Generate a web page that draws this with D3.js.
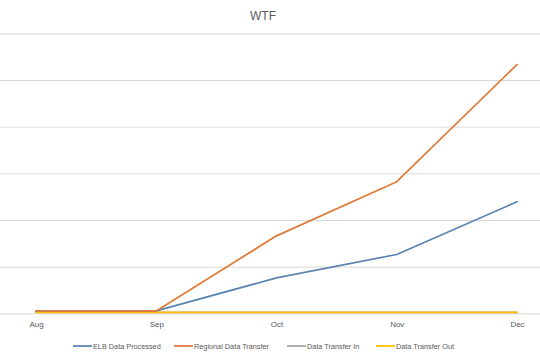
<!DOCTYPE html>
<html><head><meta charset="utf-8">
<script src="https://cdn.jsdelivr.net/npm/d3@7"></script>
<style>
html,body{margin:0;padding:0;background:#fff;}
svg{display:block;font-family:"Liberation Sans",Arial,sans-serif;}
</style></head>
<body><svg id="c" width="540" height="356"></svg>
<script>
const title = "WTF";
const months = ["Aug","Sep","Oct","Nov","Dec"];
const seriesNames = ["ELB Data Processed","Regional Data Transfer","Data Transfer In","Data Transfer Out"];
const seriesColors = ["#5B84B1","#E07B39","#A5A5A5","#FFC000"];
const elbProcessed = [0.05,0.05,0.76,1.26,2.39];
const regionalTransfer = [0.05,0.05,1.66,2.82,5.33];
const transferIn = [0.02,0.02,0.02,0.02,0.02];
const transferOut = [0.02,0.02,0.02,0.02,0.02];
const yTicks = [0,1,2,3,4,5,6];

const seriesValues = [elbProcessed, regionalTransfer, transferIn, transferOut];
const svg = d3.select("#c");
const W = 540;
const x = d3.scalePoint().domain(months).range([36,517]);
const y = d3.scaleLinear().domain([0,6]).range([313.3,33.3]);

// gridlines
const grid = svg.append("g")
  .call(d3.axisRight(y).tickValues(yTicks).tickSize(W).tickFormat(""));
grid.select(".domain").remove();
grid.selectAll(".tick line").attr("stroke","#D9D9D9").attr("stroke-width",1);

// x axis labels
const xa = svg.append("g").attr("transform","translate(0,316)")
  .call(d3.axisBottom(x).tickSize(0).tickPadding(5));
xa.select(".domain").remove();
xa.selectAll("text").attr("fill","#595959").style("font-size","8px")
  .style("font-family","'Liberation Sans',Arial,sans-serif");

// title
svg.append("text").attr("x",263).attr("y",20).attr("text-anchor","middle")
  .attr("fill","#595959").style("font-size","12px").text(title);

// lines
const line = d3.line().x((d,i)=>x(months[i])).y(d=>y(d));
const order = [2,3,0,1];
order.forEach(k=>{
  svg.append("path").datum(seriesValues[k]).attr("d",line)
    .attr("fill","none").attr("stroke",seriesColors[k])
    .attr("stroke-width",1.75).attr("stroke-linejoin","round").attr("stroke-linecap","round");
});

// legend
const legendX = [73,174,287,376];
const lg = svg.append("g").attr("transform","translate(0,346)");
seriesNames.forEach((n,i)=>{
  const g = lg.append("g").attr("transform",`translate(${legendX[i]},0)`);
  g.append("line").attr("x1",0).attr("x2",19).attr("y1",0).attr("y2",0)
    .attr("stroke",seriesColors[i]).attr("stroke-width",1.75);
  g.append("text").attr("x",20).attr("y",2.7).attr("fill","#595959")
    .style("font-size","7.3px").text(n);
});
</script></body></html>
